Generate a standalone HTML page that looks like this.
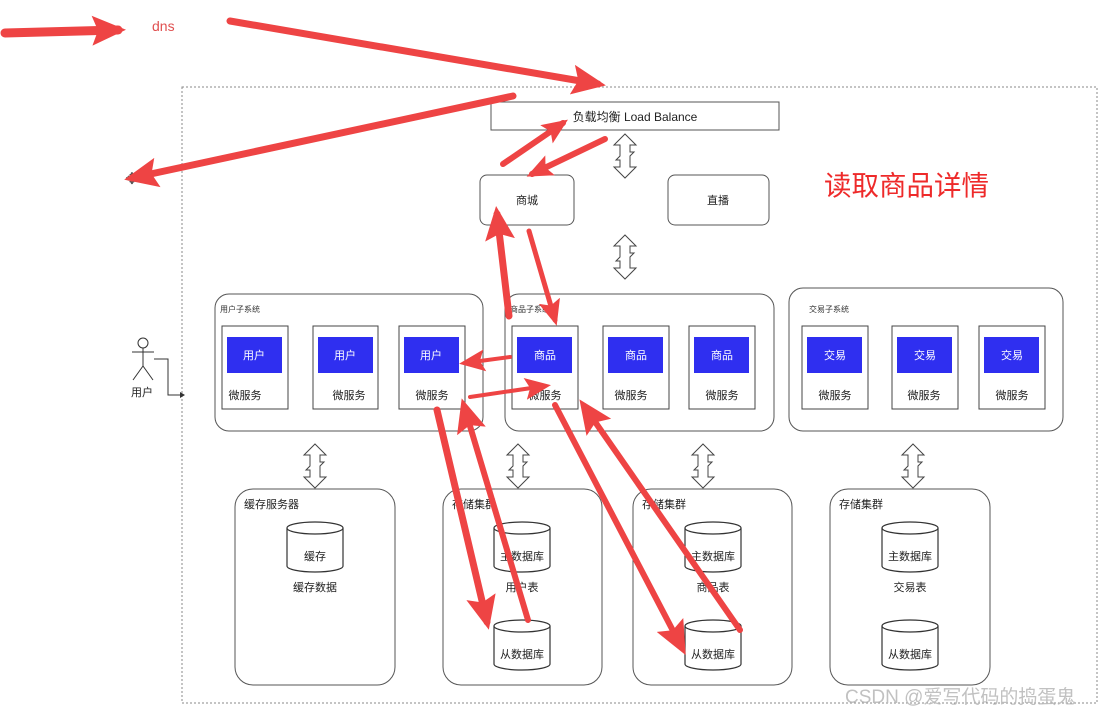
<!DOCTYPE html>
<html><head><meta charset="utf-8"><style>
html,body{margin:0;padding:0;background:#fff;}
svg{display:block;font-family:"Liberation Sans","Noto Sans CJK SC",sans-serif;}
</style></head><body>
<svg width="1107" height="717" viewBox="0 0 1107 717" xmlns="http://www.w3.org/2000/svg">
<defs>
<marker id="ah" markerUnits="userSpaceOnUse" markerWidth="34" markerHeight="30" refX="26" refY="15" orient="auto">
<polygon points="0,0 34,15 0,30 6,15" fill="#ee4444"/>
</marker>
<marker id="ahs" markerUnits="userSpaceOnUse" markerWidth="26" markerHeight="22" refX="20" refY="11" orient="auto">
<polygon points="0,0 26,11 0,22 5,11" fill="#ee4444"/>
</marker>
<g id="dbl">
<polygon points="0,-22 11,-11 5,-11 5,-4 9,-4 5,0 5,11 11,11 0,22 -11,11 -5,11 -5,4 -9,4 -5,0 -5,-11 -11,-11" fill="#fff" stroke="#444" stroke-width="1"/>
</g>
<g id="cyl">
<path d="M-28,6 L-28,44 A28,6 0 0 0 28,44 L28,6" fill="#fff" stroke="#333" stroke-width="1.2"/>
<ellipse cx="0" cy="6" rx="28" ry="6" fill="#fff" stroke="#333" stroke-width="1.2"/>
</g>
</defs>

<rect x="182" y="87" width="915" height="616" fill="none" stroke="#888" stroke-width="1" stroke-dasharray="2,2"/>

<rect x="491" y="102" width="288" height="28" fill="#fff" stroke="#555"/>
<text x="635" y="121" font-size="12" text-anchor="middle" fill="#222">负载均衡 Load Balance</text>

<rect x="480" y="175" width="94" height="50" rx="7" fill="#fff" stroke="#555"/>
<text x="527" y="204" font-size="11" text-anchor="middle" fill="#222">商城</text>
<rect x="668" y="175" width="101" height="50" rx="7" fill="#fff" stroke="#555"/>
<text x="718" y="204" font-size="11" text-anchor="middle" fill="#222">直播</text>

<use href="#dbl" x="625" y="156"/>
<use href="#dbl" x="625" y="257"/>

<rect x="215" y="294" width="268" height="137" rx="14" fill="#fff" stroke="#555"/>
<text x="220" y="312" font-size="8" fill="#333">用户子系统</text>
<rect x="505" y="294" width="269" height="137" rx="14" fill="#fff" stroke="#555"/>
<text x="510" y="312" font-size="8" fill="#333">商品子系统</text>
<rect x="789" y="288" width="274" height="143" rx="14" fill="#fff" stroke="#555"/>
<text x="809" y="312" font-size="8" fill="#333">交易子系统</text>

<g font-size="11" text-anchor="middle">
<rect x="222" y="326" width="66" height="83" fill="#fff" stroke="#444"/><rect x="227" y="337" width="55" height="36" fill="#2f2ff0"/><text x="254" y="359" fill="#fff">用户</text><text x="245" y="399" fill="#222">微服务</text>
<rect x="313" y="326" width="65" height="83" fill="#fff" stroke="#444"/><rect x="318" y="337" width="55" height="36" fill="#2f2ff0"/><text x="345" y="359" fill="#fff">用户</text><text x="349" y="399" fill="#222">微服务</text>
<rect x="399" y="326" width="66" height="83" fill="#fff" stroke="#444"/><rect x="404" y="337" width="55" height="36" fill="#2f2ff0"/><text x="431" y="359" fill="#fff">用户</text><text x="432" y="399" fill="#222">微服务</text>
<rect x="512" y="326" width="66" height="83" fill="#fff" stroke="#444"/><rect x="517" y="337" width="55" height="36" fill="#2f2ff0"/><text x="545" y="359" fill="#fff">商品</text><text x="545" y="399" fill="#222">微服务</text>
<rect x="603" y="326" width="66" height="83" fill="#fff" stroke="#444"/><rect x="608" y="337" width="55" height="36" fill="#2f2ff0"/><text x="636" y="359" fill="#fff">商品</text><text x="631" y="399" fill="#222">微服务</text>
<rect x="689" y="326" width="66" height="83" fill="#fff" stroke="#444"/><rect x="694" y="337" width="55" height="36" fill="#2f2ff0"/><text x="722" y="359" fill="#fff">商品</text><text x="722" y="399" fill="#222">微服务</text>
<rect x="802" y="326" width="66" height="83" fill="#fff" stroke="#444"/><rect x="807" y="337" width="55" height="36" fill="#2f2ff0"/><text x="835" y="359" fill="#fff">交易</text><text x="835" y="399" fill="#222">微服务</text>
<rect x="892" y="326" width="66" height="83" fill="#fff" stroke="#444"/><rect x="897" y="337" width="55" height="36" fill="#2f2ff0"/><text x="925" y="359" fill="#fff">交易</text><text x="924" y="399" fill="#222">微服务</text>
<rect x="979" y="326" width="66" height="83" fill="#fff" stroke="#444"/><rect x="984" y="337" width="55" height="36" fill="#2f2ff0"/><text x="1012" y="359" fill="#fff">交易</text><text x="1012" y="399" fill="#222">微服务</text>
</g>

<use href="#dbl" x="315" y="466"/>
<use href="#dbl" x="518" y="466"/>
<use href="#dbl" x="703" y="466"/>
<use href="#dbl" x="913" y="466"/>

<rect x="235" y="489" width="160" height="196" rx="18" fill="#fff" stroke="#555"/>
<text x="244" y="508" font-size="11" fill="#222">缓存服务器</text>
<use href="#cyl" x="315" y="522"/>
<text x="315" y="560" font-size="11" text-anchor="middle" fill="#222">缓存</text>
<text x="315" y="591" font-size="11" text-anchor="middle" fill="#222">缓存数据</text>

<rect x="443" y="489" width="159" height="196" rx="18" fill="#fff" stroke="#555"/>
<text x="452" y="508" font-size="11" fill="#222">存储集群</text>
<use href="#cyl" x="522" y="522"/>
<text x="522" y="560" font-size="11" text-anchor="middle" fill="#222">主数据库</text>
<text x="522" y="591" font-size="11" text-anchor="middle" fill="#222">用户表</text>
<use href="#cyl" x="522" y="620"/>
<text x="522" y="658" font-size="11" text-anchor="middle" fill="#222">从数据库</text>

<rect x="633" y="489" width="159" height="196" rx="18" fill="#fff" stroke="#555"/>
<text x="642" y="508" font-size="11" fill="#222">存储集群</text>
<use href="#cyl" x="713" y="522"/>
<text x="713" y="560" font-size="11" text-anchor="middle" fill="#222">主数据库</text>
<text x="713" y="591" font-size="11" text-anchor="middle" fill="#222">商品表</text>
<use href="#cyl" x="713" y="620"/>
<text x="713" y="658" font-size="11" text-anchor="middle" fill="#222">从数据库</text>

<rect x="830" y="489" width="160" height="196" rx="18" fill="#fff" stroke="#555"/>
<text x="839" y="508" font-size="11" fill="#222">存储集群</text>
<use href="#cyl" x="910" y="522"/>
<text x="910" y="560" font-size="11" text-anchor="middle" fill="#222">主数据库</text>
<text x="910" y="591" font-size="11" text-anchor="middle" fill="#222">交易表</text>
<use href="#cyl" x="910" y="620"/>
<text x="910" y="658" font-size="11" text-anchor="middle" fill="#222">从数据库</text>

<g stroke="#333" stroke-width="1" fill="none">
<circle cx="143" cy="343" r="5"/>
<line x1="143" y1="348" x2="143" y2="366"/>
<line x1="132" y1="352" x2="154" y2="352"/>
<line x1="143" y1="366" x2="133" y2="380"/>
<line x1="143" y1="366" x2="153" y2="380"/>
<polyline points="154,359 168,359 168,395 180,395"/>
</g>
<polygon points="180,392 185,395 180,398" fill="#333"/>
<text x="142" y="396" font-size="11" text-anchor="middle" fill="#222">用户</text>

<text x="824" y="195" font-size="27.5" fill="#ee2a2a">读取商品详情</text>
<text x="152" y="31" font-size="14" fill="#e05050">dns</text>
<text x="132" y="184" font-size="16" text-anchor="middle" fill="#555">✥</text>

<g stroke="#ee4444" fill="none" stroke-linecap="round">
<line x1="5" y1="33" x2="118" y2="30" stroke-width="9" marker-end="url(#ah)"/>
<line x1="230" y1="21" x2="598" y2="84" stroke-width="7" marker-end="url(#ah)"/>
<line x1="513" y1="96" x2="132" y2="178" stroke-width="7" marker-end="url(#ah)"/>
<line x1="503" y1="164" x2="563" y2="123" stroke-width="6" marker-end="url(#ahs)"/>
<line x1="605" y1="139" x2="532" y2="174" stroke-width="6" marker-end="url(#ahs)"/>
<line x1="509" y1="316" x2="497" y2="214" stroke-width="7" marker-end="url(#ah)"/>
<line x1="529" y1="231" x2="555" y2="320" stroke-width="5" marker-end="url(#ahs)"/>
<line x1="510" y1="357" x2="465" y2="363" stroke-width="4" marker-end="url(#ahs)"/>
<line x1="470" y1="397" x2="545" y2="386" stroke-width="4" marker-end="url(#ahs)"/>
<line x1="437" y1="410" x2="487" y2="622" stroke-width="7" marker-end="url(#ah)"/>
<line x1="528" y1="620" x2="464" y2="406" stroke-width="6" marker-end="url(#ah)"/>
<line x1="555" y1="405" x2="682" y2="648" stroke-width="6" marker-end="url(#ah)"/>
<line x1="740" y1="630" x2="584" y2="406" stroke-width="6" marker-end="url(#ah)"/>
</g>

<text x="845" y="703" font-size="19" fill="#bbb" opacity="0.9">CSDN @爱写代码的捣蛋鬼</text>
</svg>
</body></html>
